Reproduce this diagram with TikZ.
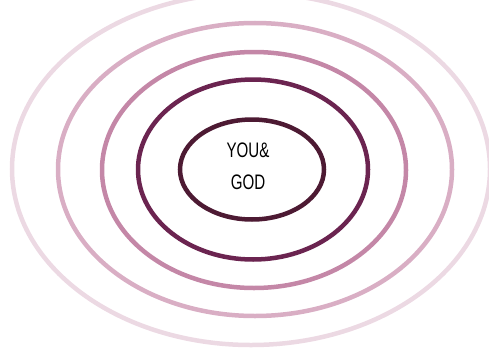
\documentclass[tikz,border=0pt]{standalone}
\usepackage{fontspec}
\setsansfont{Liberation Sans}[FakeStretch=0.72]
\definecolor{ringone}{HTML}{4D1A33}
\definecolor{ringtwo}{HTML}{6B2450}
\definecolor{ringthree}{HTML}{C487A7}
\definecolor{ringfour}{HTML}{D9AEC4}
\definecolor{ringfive}{HTML}{ECD9E3}
\usetikzlibrary{shapes.geometric,positioning}

\begin{document}
\begin{tikzpicture}[x=1pt,y=1pt,
  ring/.style={ellipse,line width=4.5pt,inner sep=0pt,outer sep=0pt}]
  \useasboundingbox (0,0) rectangle (489,349);
  % Outer ring
  \node[ring,draw=ringfive,minimum width=478pt,minimum height=352pt] at (251,180) (R5) {};
  % Fourth ring
  \node[ring,draw=ringfour,minimum width=394pt,minimum height=293pt] at (255,179.5) (R4) {};
  % Third ring
  \node[ring,draw=ringthree,minimum width=304pt,minimum height=236pt] at (254,179) (R3) {};
  % Second ring
  \node[ring,draw=ringtwo,minimum width=230pt,minimum height=180pt] at (253,179.5) (R2) {};
  % Inner ring
  \node[ring,draw=ringone,minimum width=144pt,minimum height=100pt] at (252,179.5) (R1) {};
  % Label
  \node[font=\sffamily\fontsize{21}{32}\selectfont,align=center,inner sep=0pt]
    at (248,183) (T) {YOU\&\\GOD};
\end{tikzpicture}
\end{document}
